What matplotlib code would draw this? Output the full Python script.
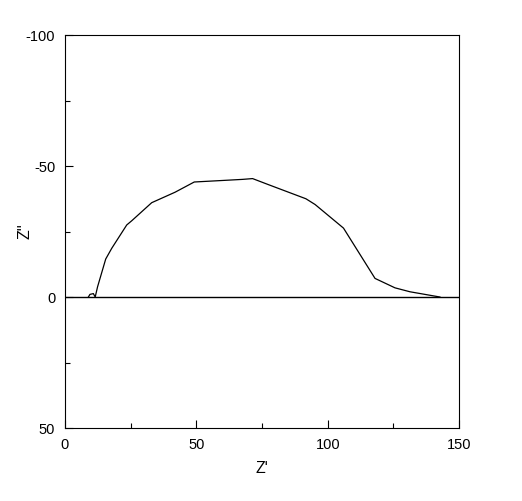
import matplotlib.pyplot as plt
from matplotlib.ticker import MultipleLocator

plt.rcParams['font.family'] = ['Liberation Sans', 'DejaVu Sans']
plt.rcParams['axes.unicode_minus'] = False

# Data
z_real = [8.9, 9.5, 10.8, 11.5, 12.4, 15.5, 17.8, 23.5, 25.4, 33.0, 41.9, 49.2,
          60.3, 67.6, 71.4, 77.4, 91.7, 95.2, 106.0, 118.0, 125.6, 131.3, 142.7]
z_imag = [0.0, -1.0, -1.3, 0.0, -3.9, -14.5, -18.6, -27.5, -29.1, -36.0, -40.0, -43.9,
          -44.5, -44.9, -45.2, -42.9, -37.5, -35.3, -26.3, -7.1, -3.5, -2.0, 0.0]

fig = plt.figure(figsize=(5.22, 5.01), dpi=100)
ax = fig.add_axes([0.1245, 0.1457, 0.755, 0.7844])

ax.plot(z_real, z_imag, color='black', lw=0.9)
ax.axhline(0, color='black', lw=1.0)

ax.set_xlim(0, 150)
ax.set_ylim(50, -100)
ax.xaxis.set_major_locator(MultipleLocator(50))
ax.xaxis.set_minor_locator(MultipleLocator(25))
ax.yaxis.set_major_locator(MultipleLocator(50))
ax.yaxis.set_minor_locator(MultipleLocator(25))
ax.tick_params(which='major', direction='in', length=5.5, width=0.8, labelsize=10.5, pad=7)
ax.tick_params(which='minor', direction='in', length=3.5, width=0.8)
for s in ax.spines.values():
    s.set_linewidth(0.8)

ax.set_xlabel("Z'", fontsize=11.5, labelpad=7)
ax.set_ylabel("Z''", fontsize=11.5)
ax.yaxis.set_label_coords(-0.082, 0.5)

plt.savefig("out.png", dpi=100)
